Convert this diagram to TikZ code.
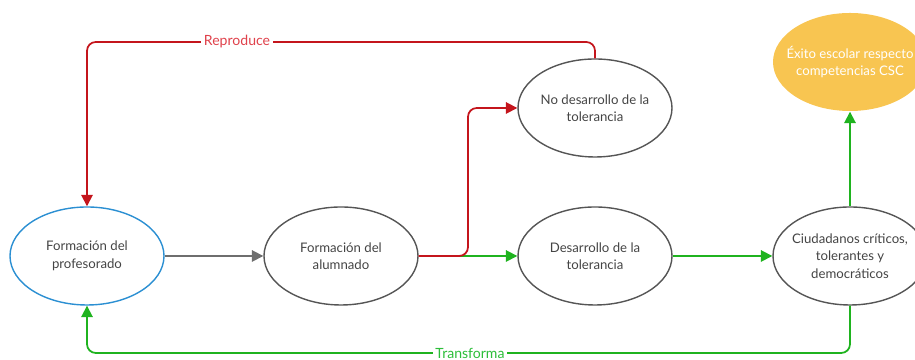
\documentclass[tikz,border=0pt]{standalone}
\usepackage{fontspec}
\setmainfont{Lato}
\usetikzlibrary{shapes.geometric,arrows.meta}
\definecolor{ringgray}{HTML}{555555}
\definecolor{txtgray}{HTML}{444444}
\definecolor{flowred}{HTML}{C4151C}
\definecolor{flowgreen}{HTML}{1FB31F}
\definecolor{labred}{HTML}{E0414B}
\definecolor{labgreen}{HTML}{2DBE3A}
\definecolor{ringblue}{HTML}{2B8FD2}
\definecolor{goal}{HTML}{F8C551}
\tikzset{
    stage/.style={ellipse, draw=ringgray, line width=0.8pt, minimum width=3.08cm,
        minimum height=1.96cm, inner sep=0pt, align=center, text=txtgray,
        font=\fontsize{7.5}{10}\selectfont},
    tight/.style={inner sep=-8pt},
    tip/.style={-{Triangle[width=6.5pt,length=6.5pt]}},
    gray link/.style={tip, draw=ringgray!85, line width=1pt},
    red link/.style={tip, draw=flowred, line width=1pt, rounded corners=5pt},
    green link/.style={tip, draw=flowgreen, line width=1pt, rounded corners=5pt},
    link label/.style={fill=white, inner sep=1.5pt, font=\fontsize{8}{9.5}\selectfont},
}

\begin{document}
\begin{tikzpicture}
\useasboundingbox (0,0) rectangle (18.3,7.2);

\node[stage, draw=ringblue] (prof) at (1.74,2.08) {Formación del\\profesorado};
\node[stage] (alum) at (6.82,2.08) {Formación del\\alumnado};
\node[stage] (nodev) at (11.9,5.04) {No desarrollo de la\\tolerancia};
\node[stage] (dev) at (11.9,2.08) {Desarrollo de la\\tolerancia};
\node[stage, tight] (citiz) at (17.0,2.08) {Ciudadanos críticos,\\tolerantes y\\democráticos};
\node[stage, tight, draw=none, fill=goal, text=white] (exito) at (17.0,5.96) {Éxito escolar respecto\\competencias CSC};

\coordinate (split) at (9.36,2.08);
\coordinate (reptop) at (1.74,6.36);
\coordinate (transbot) at (1.74,0.14);

\draw[gray link] (prof) -- (alum);
\draw[green link] (alum) -- (dev);
\draw[red link] (alum) -- (split) |- (nodev);
\draw[green link] (dev) -- (citiz);
\draw[green link] (citiz) -- (exito);
\draw[red link] (nodev.north) |- (reptop) -- (prof.north);
\draw[green link] (citiz.south) |- (transbot) -- (prof.south);
\node[link label, text=labgreen] (trans) at (9.4,0.14) {Transforma};
\node[link label, text=labred] (rep) at (4.74,6.36) {Reproduce};
\end{tikzpicture}
\end{document}
